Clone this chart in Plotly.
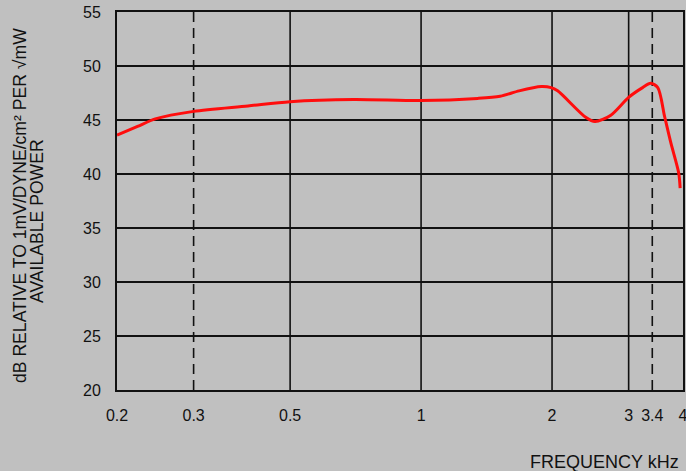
import math
import plotly.graph_objects as go

# Data
freq_khz = [0.2, 0.223, 0.245, 0.3, 0.4, 0.5, 0.7, 1.0, 1.35, 1.52, 1.68, 1.89, 1.99,
            2.06, 2.39, 2.51, 2.73, 3.0, 3.23, 3.37, 3.5, 3.63, 3.75, 3.91, 3.94]
response_db = [43.6, 44.4, 45.1, 45.8, 46.3, 46.7, 46.9, 46.8, 47.0, 47.2, 47.7, 48.1, 48.0,
               47.7, 45.25, 44.85, 45.45, 47.1, 48.0, 48.4, 48.0, 45.3, 42.9, 40.1, 38.7]

x_tick_vals = [0.2, 0.3, 0.5, 1, 2, 3, 3.4, 4]
x_tick_text = ["0.2", "0.3", "0.5", "1", "2", "3", "3.4", "4"]
solid_vgrid = [0.5, 1, 2, 3]
dashed_vgrid = [0.3, 3.4]
y_ticks = [20, 25, 30, 35, 40, 45, 50, 55]

FONT = "Liberation Sans, Arial, Helvetica, sans-serif"
INK = "#111111"
BG = "#c0c0c0"

fig = go.Figure()

for v in solid_vgrid:
    fig.add_trace(go.Scatter(x=[v, v], y=[20, 55], mode="lines",
                             line=dict(color=INK, width=1.6),
                             hoverinfo="skip", showlegend=False))
for v in dashed_vgrid:
    fig.add_trace(go.Scatter(x=[v, v], y=[20, 55], mode="lines",
                             line=dict(color=INK, width=1.6, dash="10px,6px"),
                             hoverinfo="skip", showlegend=False))

fig.add_trace(go.Scatter(x=freq_khz, y=response_db, mode="lines",
                         line=dict(color="#ff0d0d", width=3, shape="spline", smoothing=0.8),
                         showlegend=False))

fig.update_layout(
    width=686, height=471,
    margin=dict(l=117, r=3, t=12, b=81),
    paper_bgcolor=BG, plot_bgcolor=BG,
    font=dict(family=FONT, size=16, color=INK),
    xaxis=dict(type="log", range=[math.log10(0.2), math.log10(4.0) + 1e-6],
               tickvals=x_tick_vals, ticktext=x_tick_text,
               showgrid=False, zeroline=False, ticks="",
               showline=True, linecolor=INK, linewidth=2, mirror=True,
               ticklabelstandoff=10, ticklabeloverflow="allow", automargin=False,
               tickfont=dict(family=FONT, size=16, color=INK)),
    yaxis=dict(range=[20, 55], tickvals=y_ticks,
               showgrid=True, gridcolor=INK, gridwidth=1.6, zeroline=False, ticks="",
               showline=True, linecolor=INK, linewidth=2, mirror=True,
               ticklabelstandoff=11, automargin=False,
               tickfont=dict(family=FONT, size=16, color=INK)),
    annotations=[
        dict(text="dB RELATIVE TO 1mV/DYNE/cm² PER √mW", textangle=-90,
             xref="paper", yref="paper", x=(20 - 117) / 566, y=(390 - 206) / 378,
             xanchor="center", yanchor="middle", showarrow=False,
             font=dict(family=FONT, size=17.6, color=INK)),
        dict(text="AVAILABLE POWER", textangle=-90,
             xref="paper", yref="paper", x=(37 - 117) / 566, y=(390 - 221) / 378,
             xanchor="center", yanchor="middle", showarrow=False,
             font=dict(family=FONT, size=17.6, color=INK)),
        dict(text="FREQUENCY kHz",
             xref="paper", yref="paper", x=(681 - 117) / 566, y=(390 - 462) / 378,
             xanchor="right", yanchor="middle", showarrow=False,
             font=dict(family=FONT, size=18, color=INK)),
    ],
)

fig.write_html("out.html", config={"displayModeBar": False},
               post_script="document.body.style.margin='0px';document.body.style.overflow='hidden';")
